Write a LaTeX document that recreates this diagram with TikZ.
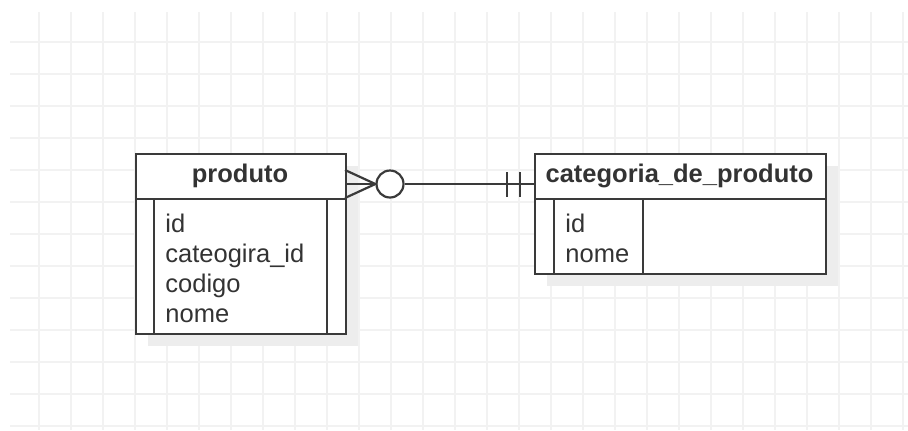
\documentclass[tikz,border=0pt]{standalone}
\usepackage{fontspec}
\setmainfont{Liberation Sans}
\definecolor{erline}{HTML}{3A3A3A}
\definecolor{ertext}{HTML}{333333}
\definecolor{ergrid}{HTML}{F2F2F2}
\definecolor{ershadow}{HTML}{EDEDED}
\begin{document}
\begin{tikzpicture}[x=0.5pt, y=-0.5pt,
  ln/.style={draw=erline, line width=1.1pt},
  tbl/.style={ln, fill=white, rectangle, inner sep=0pt, anchor=north west},
  head/.style={text=ertext, font=\fontsize{12.75}{15}\selectfont\bfseries, inner sep=0pt},
  attr/.style={text=ertext, font=\fontsize{12.75}{15}\selectfont, inner sep=0pt, anchor=base west}]
\useasboundingbox (0,0) rectangle (908,430);
% grid
\begin{scope}[shift={(7,10)}]
\draw[ergrid, line width=0.75pt, xstep=16pt, ystep=16pt] (3,2) grid (901,420);
\end{scope}
% produto
\fill[ershadow] (148,166) rectangle (358,346);
\node[tbl, minimum width=105pt, minimum height=90pt] (prod) at (135,153) {};
\draw[ln] (135,199) -- (345,199);
\draw[ln] (154,199) -- (154,333);
\draw[ln] (327,199) -- (327,333);
\node[head] (prodname) at (240,176) {produto};
\node[attr] (prodid) at (165,232) {id};
\node[attr] (prodcat) at (165,262) {cateogira\_id};
\node[attr] (prodcod) at (165,292) {codigo};
\node[attr] (prodnome) at (165,322) {nome};
% categoria_de_produto
\fill[ershadow] (547,166) rectangle (838,286);
\node[tbl, minimum width=145.5pt, minimum height=60pt] (cat) at (534,153) {};
\draw[ln] (534,199) -- (825,199);
\draw[ln] (554,199) -- (554,273);
\draw[ln] (643,199) -- (643,273);
\node[head] (catname) at (679.5,176) {categoria\_de\_produto};
\node[attr] (catid) at (565,232) {id};
\node[attr] (catnome) at (565,262) {nome};
% relationship
\coordinate (prodrel) at (345,184);
\coordinate (catrel) at (534,184);
\node[ln, circle, fill=white, inner sep=0pt, minimum size=13.5pt] (opt) at (390,184) {};
\draw[ln] (345,170) -- (opt.west) -- (345,198);
\draw[ln] (prodrel) -- (opt.west);
\draw[ln] (opt.east) -- (catrel);
\draw[ln] (507,172) -- (507,197);
\draw[ln] (520,172) -- (520,197);
\end{tikzpicture}
\end{document}
